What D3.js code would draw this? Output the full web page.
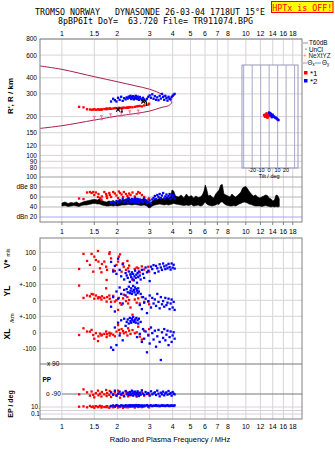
<!DOCTYPE html>
<html><head><meta charset="utf-8">
<script src="https://cdn.jsdelivr.net/npm/d3@7"></script>
<style>body{margin:0;background:#fff}svg{display:block}</style>
</head><body>
<script>
// ---------- DATA ----------
const freqTicks = [1,1.5,2,3,4,5,6,7,8,10,12,14,16,18];
const freqTickLabels = ["1","1.5","2","3","4","5","6","7","8","10","12","14","16","18"];
const heightTicks = [800,600,400,300,200,150,120,100,90,80];
const dbTicks = [100,80,60,40,20];
const dbTickLabels = ["100","dBe 80","60","40","dBn 20"];
const bandTickBand = ["V","V","V","YL","YL","XL","XL"];
const bandTickVal = [100,0,-100,0,-100,0,-100];
const bandTickLabels = ["100","0","+-100","0","+-100","0","-100"];
const tiltTicks = [-20,-10,0,10,20];
const tiltGrid = [-30,-20,-10,0,10,20,30];

// profile curve (f MHz, h km)
const curveF = [0.76,1.0,1.5,2.0,2.5,3.0,3.5,3.8,3.95,3.8,3.5,3.0,2.5,2.0,1.5,1.0,0.76];
const curveH = [494,465,408,373,347,326,298,275,257,243,236,221,211,202,188,170,162];

// pink NeXtYZ error bars
const pinkF = [1.5,1.64,1.84,2.1,2.34,2.6];
const pinkH = [194,196,203,209,214,217];
// black markers
const crossF = [2.02,2.77];
const crossH = [227,262];
const blackBarF = [2.12,2.88];
const blackBarH = [224,252];

// O-mode (*1, red) echoes
const redF = [1.24,1.31,1.37,1.42,1.45,1.48,1.50,1.53,1.57,1.58,1.61,1.64,1.65,1.70,1.74,1.75,1.76,1.81,1.82,1.85,1.90,1.94,1.98,2.02,2.04,2.07,2.11,2.15,2.17,2.23,2.27,2.29,2.32,2.36,2.42,2.49,2.55,2.60,2.65,2.72,2.80,2.95,2.98];
const redH = [238,236,228,227,226,227,228,226,227,228,226,228,227,229,230,228,231,230,232,230,231,233,232,231,234,232,234,233,235,234,236,234,236,237,236,238,240,241,242,240,244,248,252];
const redAmp = [57,56,69,70,68,70,64,69,60,66,58,55,61,70,66,62,58,68,64,60,70,67,63,58,71,68,65,60,70,66,62,58,67,64,69,61,66,70,68,64,60,55,57];
const redV = [-4,90,46,21,90,-21,73,52,108,42,0,-25,27,42,10,-73,-10,90,100,62,-10,-17,21,42,73,87,-21,31,10,-10,46,0,17,-37,-73,-4,5,0,-25,12,-8,10,-21];
const redYL = [92,15,30,25,40,37,10,30,12,20,17,5,25,15,75,-8,20,30,10,-10,28,-8,0,-60,15,-18,-28,12,35,-5,20,-20,2,-45,-90,5,-15,12,-20,20,-10,-8,-25];
const redXL = [-17,25,5,4,15,-17,-40,-5,-55,-25,-8,-20,-15,-10,5,-30,-12,-3,-20,-8,-15,-25,4,45,15,-6,20,8,-6,0,-20,25,10,-10,14,-6,0,35,-27,-45,10,-15,20];
const redPP = [-92,-62,-80,-100,-75,-95,-110,-85,-70,-98,-88,-105,-78,-92,-66,-102,-85,-95,-72,-108,-90,-80,-98,-70,-88,-112,-95,-82,-100,-76,-92,-104,-86,-98,-74,-90,-106,-84,-96,-80,-100,-88,-92];
const redEP = [12,15,8,20,10,14,6,18,9,12,22,7,15,10,13,9,18,6,12,16,8,11,20,7,14,10,17,6,12,9,15,8,19,11,13,7,16,10,12,9,14,11,8];

// X-mode (*2, blue) echoes
const blueF = [1.85,1.90,1.94,1.98,2.02,2.06,2.10,2.14,2.18,2.22,2.25,2.28,2.31,2.34,2.36,2.38,2.40,2.42,2.44,2.46,2.48,2.50,2.52,2.54,2.56,2.58,2.60,2.62,2.65,2.68,2.72,2.76,2.80,2.85,2.90,2.95,3.00,3.05,3.10,3.15,3.20,3.25,3.30,3.35,3.40,3.45,3.50,3.55,3.60,3.65,3.70,3.75,3.80,3.85,3.90,3.95,4.00,4.05,4.10];
const blueH = [262,275,268,262,280,270,285,265,278,272,282,276,286,280,290,274,284,278,288,272,282,276,290,280,274,286,278,270,284,276,268,280,272,265,275,285,292,280,298,275,288,270,282,268,290,276,300,284,270,290,278,266,285,276,272,284,290,296,300];
const blueAmp = [48,50,47,52,49,54,51,56,50,53,55,49,57,52,54,50,56,53,51,55,49,58,52,54,50,56,53,48,55,51,54,50,57,52,48,50,53,47,55,58,62,56,64,60,66,58,63,68,57,61,65,59,62,66,56,64,60,63,57];
const blueV = [40,-20,15,-35,60,-10,-50,25,-70,-30,-45,-60,-20,-85,-40,-55,-25,-65,-35,-75,-50,-15,-60,-40,-90,-30,-55,-20,-45,-70,-10,-35,-60,5,-25,-15,-80,10,-5,20,-30,15,0,-20,25,5,-10,30,12,-5,18,0,28,8,-8,30,4,22,-2];
const blueYL = [-40,20,-70,55,10,80,40,-20,65,30,70,50,85,45,60,75,40,55,90,65,50,80,35,70,60,45,75,55,-30,40,-55,20,-15,10,-80,-5,30,-45,15,-20,5,-35,40,-10,-50,20,-25,-5,-40,15,-30,-15,10,-55,-20,5,-45,-10,-60];
const blueXL = [-95,-110,30,-80,60,-20,75,-50,85,40,65,80,55,90,70,60,85,75,95,65,70,80,60,90,-30,75,55,85,-10,65,-60,20,-40,5,-125,-20,-70,30,-5,-45,10,-90,-25,15,-60,-173,0,-35,20,-50,-15,10,-80,-30,5,-60,-20,0,-40];
const bluePP = [-80,-95,-70,-100,-88,-76,-92,-84,-104,-72,-90,-82,-96,-78,-88,-94,-70,-86,-100,-80,-92,-76,-88,-98,-84,-74,-90,-102,-82,-94,-68,-88,-96,-78,-90,-84,-100,-74,-92,-86,-80,-96,-70,-88,-104,-82,-92,-76,-98,-86,-80,-94,-72,-90,-84,-100,-78,-88,-92];
const blueEP = [20,28,15,35,22,18,30,25,16,32,24,20,28,18,34,22,26,19,30,24,17,28,22,36,20,26,18,32,24,21,29,16,27,23,35,19,25,30,18,26,22,33,20,27,17,24,31,21,28,19,25,34,22,18,29,23,26,20,30];

// tilt inset
const tiltRedX = [-6,-5,-4,-3,-2,-1,0,-5,-4,-3,-2,-1,0,1,-3,-2];
const tiltRedH = [205,207,206,204,203,208,210,200,201,199,200,202,205,203,212,196];
const tiltBlueX = [0,1,2,1,3,4,5,6,7,8,9,10,11,2,3,4];
const tiltBlueH = [215,212,210,206,205,203,201,199,197,195,193,190,188,208,198,207];

// noise band (dB)
const noiseF = [1.0,1.04,1.08,1.12,1.16,1.2,1.24,1.28,1.32,1.36,1.4,1.44,1.48,1.52,1.56,1.6,1.65,1.7,1.75,1.8,1.85,1.9,1.95,2.0,2.06,2.12,2.2,2.3,2.4,2.5,2.6,2.7,2.8,2.9,2.97,3.03,3.1,3.2,3.3,3.4,3.5,3.6,3.7,3.8,3.9,3.97,4.05,4.15,4.3,4.45,4.6,4.75,4.9,5.05,5.2,5.35,5.5,5.65,5.8,5.92,6.02,6.12,6.25,6.4,6.55,6.7,6.85,7.0,7.15,7.3,7.45,7.6,7.8,8.0,8.2,8.4,8.6,8.8,9.0,9.2,9.4,9.6,9.8,10.0,10.2,10.4,10.7,11.0,11.3,11.6,11.9,12.2,12.5,12.8,13.1,13.4,13.7,14.0,14.3,14.6,14.9,15.2];
const noiseHi = [48,50,47,49,48,50,47,49,51,52, 53,54,55,55,54,56,53,51,50,52, 51,53,50,52,54,53,55,56,55,57, 56,55,57,54,50,48,52,56,55,58, 57,56,60,58,62,74,72,62,60,64, 58,66,60,63,58,62,59,60,64,72, 84,76,62,64,60,58,66,70,74,84, 85,66,64,62,60,66,62,60,63,66, 70,78,80,81,77,72,66,62,64,60, 58,60,62,64,63,58,56,52,54,64, 63,56];
const noiseLo = [42,43,41,42,43,42,41,43,44,44, 45,46,47,47,46,46,44,43,42,42, 43,42,43,42,43,44,44,45,44,45, 44,43,44,42,38,39,42,44,45,46, 45,44,45,44,45,46,47,46,45,44, 43,44,43,45,42,43,44,42,43,47, 50,46,44,43,42,43,44,46,45,50, 50,47,44,43,42,42,43,42,44,46, 47,49,50,49,48,46,45,43,42,42, 42,41,42,43,42,41,40,41,40,41, 40,41];

// ---------- DRAW ----------
const W=335,H=451, L=40, R=302;
const svg=d3.select("body").append("svg").attr("width",W).attr("height",H)
  .style("font-family","'Liberation Sans',Arial,sans-serif");
const x=d3.scaleLog().domain([0.76,20.2]).range([L,R]);
const yH=d3.scaleLog().domain([68,800]).range([177,39]);
const yA=d3.scaleLinear().domain([10,100]).range([222,177]);
const bandOffset={V:400,YL:200,XL:0};
const yMid=d3.scaleLinear().domain([-100,500]).range([348.3,252.3]);
const yPP=d3.scaleLinear().domain([-90,90]).range([394,364]);
const yEP=d3.scaleLog().domain([0.1,10]).range([414,407]);
const xT=d3.scaleLinear().domain([-32,34]).range([242,298]);

const GRID="#d8d2d8", FRAME="#808080";
const RED="#ff0000", BLUE="#0000ff";

// title
const mono="'DejaVu Sans Mono','Liberation Mono',monospace";
svg.append("text").attr("x",150).attr("y",15).attr("text-anchor","middle")
  .style("font-family",mono).style("font-size","8.3px")
  .attr("xml:space","preserve").text("TROMSO NORWAY   DYNASONDE 26-03-04 1718UT 15°E");
svg.append("text").attr("x",155.5).attr("y",23.5).attr("text-anchor","middle")
  .style("font-family",mono).style("font-size","8.3px").attr("xml:space","preserve")
  .text("8pBP6It DoY=  63.720 File= TR911074.BPG");
svg.append("rect").attr("x",271.5).attr("y",1.5).attr("width",61.5).attr("height",11)
  .attr("fill","#ffff00").attr("stroke",RED).attr("stroke-width",1);
svg.append("text").attr("x",302.2).attr("y",10.5).attr("text-anchor","middle")
  .style("font-family",mono).style("font-size","8.3px").attr("fill",RED).text("HPTx is OFF!");

// ===== top panel grid =====
const gTop=svg.append("g");
gTop.selectAll("line.vg").data(freqTicks).join("line")
  .attr("x1",d=>x(d)).attr("x2",d=>x(d)).attr("y1",39).attr("y2",222)
  .attr("stroke",GRID).attr("stroke-width",1);
gTop.append("g").selectAll("line").data(heightTicks).join("line")
  .attr("x1",L).attr("x2",R).attr("y1",d=>yH(d)).attr("y2",d=>yH(d))
  .attr("stroke",GRID);
gTop.append("g").selectAll("line").data([80,60,40]).join("line")
  .attr("x1",L).attr("x2",R).attr("y1",d=>yA(d)).attr("y2",d=>yA(d))
  .attr("stroke","#b8b8b8");
gTop.append("line").attr("x1",L).attr("x2",R).attr("y1",yA(100)).attr("y2",yA(100)).attr("stroke","#a0a0a0");
gTop.append("line").attr("x1",L).attr("x2",R).attr("y1",yA(20)).attr("y2",yA(20)).attr("stroke","#a8a8e8");

// tick labels
const fLab=(g,y)=>g.selectAll("text").data(freqTicks).join("text")
  .attr("x",d=>x(d)).attr("y",y).attr("text-anchor","middle").style("font-size","7px")
  .text((d,i)=>freqTickLabels[i]);
fLab(svg.append("g"),35.5);
fLab(svg.append("g"),233.5);
fLab(svg.append("g"),428.5);

svg.append("g").selectAll("text").data(heightTicks).join("text")
  .attr("x",37).attr("y",d=>yH(d)+2.4).attr("text-anchor","end").style("font-size","6.5px")
  .text(d=>d);
svg.append("g").selectAll("text").data(dbTicks).join("text")
  .attr("x",37).attr("y",d=>yA(d)+2.4).attr("text-anchor","end").style("font-size","6.5px")
  .text((d,i)=>dbTickLabels[i]);
svg.append("text").attr("transform","translate(13,96) rotate(-90)").attr("text-anchor","middle")
  .style("font-size","8px").style("font-weight","bold").text("R', R / km");

// tilt inset
const ins=svg.append("g");
ins.append("rect").attr("x",xT(-32)).attr("y",65).attr("width",xT(34)-xT(-32)).attr("height",103)
  .attr("fill","#fff");
ins.append("g").selectAll("line").data(heightTicks.filter(h=>yH(h)>65&&yH(h)<168)).join("line")
  .attr("x1",xT(-32)).attr("x2",xT(34)).attr("y1",d=>yH(d)).attr("y2",d=>yH(d)).attr("stroke",GRID);
ins.append("g").selectAll("line").data(tiltGrid).join("line")
  .attr("x1",d=>xT(d)).attr("x2",d=>xT(d)).attr("y1",65).attr("y2",168).attr("stroke","#a8a8c8");
ins.append("rect").attr("x",xT(-32)).attr("y",65).attr("width",xT(34)-xT(-32)).attr("height",103)
  .attr("fill","none").attr("stroke","#9898b8");
ins.append("g").selectAll("text").data(tiltTicks).join("text").attr("x",d=>xT(d)).attr("y",172)
  .attr("text-anchor","middle").style("font-size","5.5px").text(d=>d);
ins.append("text").attr("x",xT(0)).attr("y",177.5).attr("text-anchor","middle").style("font-size","5.5px").text("Tilt / deg");
ins.append("g").selectAll("rect").data(tiltRedX).join("rect").attr("x",d=>xT(d)-1.2).attr("y",(d,i)=>yH(tiltRedH[i])-1.2)
  .attr("width",2.4).attr("height",2.4).attr("fill",RED);
ins.append("g").selectAll("rect").data(tiltBlueX).join("rect").attr("x",d=>xT(d)-1.2).attr("y",(d,i)=>yH(tiltBlueH[i])-1.2)
  .attr("width",2.4).attr("height",2.4).attr("fill",BLUE);

// profile curve
const curvePts=curveF.map((f,i)=>[x(f),yH(curveH[i])]);
svg.append("path").attr("d",d3.line().curve(d3.curveCatmullRom)(curvePts))
  .attr("fill","none").attr("stroke","#a8204c").attr("stroke-width",1);

// pink error bars
const pk=svg.append("g").attr("stroke","#e86a9a").attr("stroke-width",1);
pinkF.forEach((f,i)=>{
  const cx=x(f), y1=yH(pinkH[i]*1.035), y2=yH(pinkH[i]/1.035);
  pk.append("line").attr("x1",cx).attr("x2",cx).attr("y1",y1).attr("y2",y2);
  pk.append("line").attr("x1",cx-1.5).attr("x2",cx+1.5).attr("y1",y1).attr("y2",y1);
  pk.append("line").attr("x1",cx-1.5).attr("x2",cx+1.5).attr("y1",y2).attr("y2",y2);
});

// echoes
const sq=(g,fs,vs,sc,col,s=2.3)=>g.selectAll("rect").data(fs).join("rect")
  .attr("x",d=>x(d)-s/2).attr("y",(d,i)=>sc(vs[i])-s/2).attr("width",s).attr("height",s).attr("fill",col);
sq(svg.append("g"),redF,redH,yH,RED);
sq(svg.append("g"),blueF,blueH,yH,BLUE);

// black markers
const bk=svg.append("g").attr("stroke","#000").attr("stroke-width",1.1);
crossF.forEach((f,i)=>{
  const cx=x(f), cy=yH(crossH[i]);
  bk.append("line").attr("x1",cx-2).attr("x2",cx+2).attr("y1",cy-2).attr("y2",cy+2);
  bk.append("line").attr("x1",cx-2).attr("x2",cx+2).attr("y1",cy+2).attr("y2",cy-2);
});
blackBarF.forEach((f,i)=>{
  const cx=x(f), y1=yH(blackBarH[i]*1.03), y2=yH(blackBarH[i]/1.03);
  bk.append("line").attr("x1",cx).attr("x2",cx).attr("y1",y1).attr("y2",y2);
  bk.append("line").attr("x1",cx-1).attr("x2",cx+1).attr("y1",y2).attr("y2",y2);
});

// noise band
const noise=noiseF.map((f,i)=>({f,lo:noiseLo[i],hi:noiseHi[i]}));
svg.append("path").attr("d",d3.area().x(d=>x(d.f)).y0(d=>yA(d.lo)).y1(d=>yA(d.hi))(noise))
  .attr("fill","#000").attr("stroke","#000").attr("stroke-width",0.6);
sq(svg.append("g"),redF,redAmp,yA,RED);
sq(svg.append("g"),blueF,blueAmp,yA,BLUE);

// top frame
svg.append("rect").attr("x",L).attr("y",39).attr("width",R-L).attr("height",222-39)
  .attr("fill","none").attr("stroke",FRAME);
svg.append("g").selectAll("line").data(freqTicks).join("line")
  .attr("x1",d=>x(d)).attr("x2",d=>x(d)).attr("y1",222).attr("y2",225).attr("stroke",FRAME);

// legend
const lg=svg.append("g").style("font-size","6.3px");
lg.append("line").attr("x1",303).attr("x2",308).attr("y1",43).attr("y2",43).attr("stroke","#999");
lg.append("text").attr("x",309).attr("y",45.3).text("T60dB");
lg.append("circle").attr("cx",306).attr("cy",49).attr("r",0.6).attr("fill","#000");
lg.append("text").attr("x",309).attr("y",51.5).text("UnCl");
lg.append("text").attr("x",303).attr("y",58.3).attr("fill","#e86a9a").text("+");
lg.append("text").attr("x",308.5).attr("y",58.3).attr("fill","#222").text("NeXtYZ");
lg.append("line").attr("x1",303).attr("x2",307).attr("y1",63).attr("y2",63).attr("stroke","#e88080");
lg.append("text").attr("x",307.5).attr("y",65.3).text("Θ").append("tspan").attr("font-size","4.5px").attr("dy",1).text("x");
lg.append("line").attr("x1",315).attr("x2",321).attr("y1",63).attr("y2",63).attr("stroke","#8080e0");
lg.append("text").attr("x",322).attr("y",65.3).text("Θ").append("tspan").attr("font-size","4.5px").attr("dy",1).text("y");
lg.append("rect").attr("x",304).attr("y",71).attr("width",3.5).attr("height",3.5).attr("fill",RED);
lg.append("text").attr("x",310).attr("y",75.5).style("font-size","8px").text("*1");
lg.append("rect").attr("x",304).attr("y",79).attr("width",3.5).attr("height",3.5).attr("fill",BLUE);
lg.append("text").attr("x",310).attr("y",83.5).style("font-size","8px").text("*2");

// ===== lower panel =====
const gLow=svg.append("g");
gLow.append("g").selectAll("line").data(freqTicks).join("line")
  .attr("x1",d=>x(d)).attr("x2",d=>x(d)).attr("y1",238).attr("y2",419).attr("stroke",GRID);
const bandYs=bandTickVal.map((v,i)=>yMid(v+bandOffset[bandTickBand[i]]));
gLow.append("g").selectAll("line").data(bandYs).join("line")
  .attr("x1",L).attr("x2",R).attr("y1",d=>d).attr("y2",d=>d).attr("stroke",GRID);
gLow.append("g").selectAll("line").data([10,1,0.1]).join("line")
  .attr("x1",L).attr("x2",R).attr("y1",d=>yEP(d)).attr("y2",d=>yEP(d)).attr("stroke",GRID);
gLow.append("line").attr("x1",L).attr("x2",R).attr("y1",yPP(90)).attr("y2",yPP(90)).attr("stroke","#777").attr("stroke-width",1.2);
gLow.append("line").attr("x1",62).attr("x2",R).attr("y1",yPP(-90)).attr("y2",yPP(-90)).attr("stroke","#777").attr("stroke-width",1);

svg.append("g").selectAll("text").data(bandYs).join("text")
  .attr("x",36).attr("y",d=>d+2.4).attr("text-anchor","end").style("font-size","6.5px")
  .text((d,i)=>bandTickLabels[i]);
const rot=(xx,yy,t,fs,bold)=>svg.append("text").attr("transform",`translate(${xx},${yy}) rotate(-90)`)
  .attr("text-anchor","middle").style("font-size",fs).style("font-weight",bold?"bold":"normal").text(t);
rot(9.5,264,"V*",  "8.5px",true);
rot(9.5,252.5,"m/s","5px",false);
rot(9.5,291,"YL","8.5px",true);
rot(14,318,"/km","6px",false);
rot(9.5,334,"XL","8.5px",true);
rot(13,404,"EP / deg","7px",true);

svg.append("text").attr("x",47).attr("y",366.3).style("font-size","6.5px").text("x 90");
svg.append("text").attr("x",42.5).attr("y",381.5).style("font-size","6.5px").style("font-weight","bold").text("PP");
svg.append("text").attr("x",46).attr("y",396.4).style("font-size","6.5px").text("o -90");
svg.append("text").attr("x",40).attr("y",409.4).attr("text-anchor","end").style("font-size","6.5px").text("10.");
svg.append("text").attr("x",40).attr("y",416.4).attr("text-anchor","end").style("font-size","6.5px").text("0.1");

const mid=svg.append("g");
["V","YL","XL"].forEach(b=>{
  const rv=b==="V"?redV:b==="YL"?redYL:redXL;
  const bv=b==="V"?blueV:b==="YL"?blueYL:blueXL;
  sq(mid.append("g"),redF,rv,v=>yMid(v+bandOffset[b]),RED);
  sq(mid.append("g"),blueF,bv,v=>yMid(v+bandOffset[b]),BLUE);
});
sq(mid.append("g"),redF,redPP,yPP,RED);
sq(mid.append("g"),blueF,bluePP,yPP,BLUE);
sq(mid.append("g"),redF,redEP,yEP,RED);
sq(mid.append("g"),blueF,blueEP,yEP,BLUE);

svg.append("rect").attr("x",L).attr("y",238).attr("width",R-L).attr("height",419-238)
  .attr("fill","none").attr("stroke",FRAME);
svg.append("text").attr("x",170).attr("y",441.5).attr("text-anchor","middle").style("font-size","7.5px")
  .text("Radio and Plasma Frequency / MHz");
</script>
</body></html>
